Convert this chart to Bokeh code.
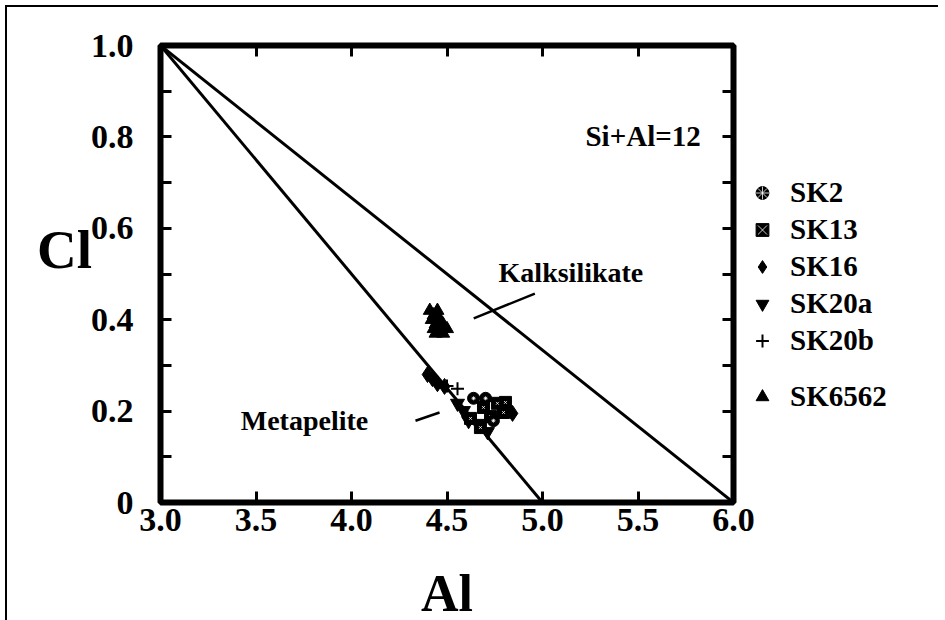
from bokeh.plotting import figure
from bokeh.layouts import row
from bokeh.models import (Range1d, FixedTicker, LinearAxis, Legend, LegendItem,
                          Label, PrintfTickFormatter)
from bokeh.embed import file_html
from bokeh.resources import INLINE

FONT = "Liberation Serif"

# ---- data -------------------------------------------------------------
x_ticks = [3.0, 3.5, 4.0, 4.5, 5.0, 5.5, 6.0]
y_ticks = [0.0, 0.2, 0.4, 0.6, 0.8, 1.0]
y_minor = [0.1, 0.3, 0.5, 0.7, 0.9]

meta_line_al = [3.0, 5.0]
meta_line_cl = [1.0, 0.0]
kalk_line_al = [3.0, 6.0]
kalk_line_cl = [1.0, 0.0]

kalk_leader_al = [4.64, 4.96]
kalk_leader_cl = [0.403, 0.457]
meta_leader_al = [4.335, 4.461]
meta_leader_cl = [0.179, 0.197]

sk2_al = [4.639, 4.743, 4.702]
sk2_cl = [0.228, 0.179, 0.228]
sk13_al = [4.764, 4.691, 4.796, 4.623, 4.675, 4.728, 4.806]
sk13_cl = [0.217, 0.208, 0.197, 0.184, 0.164, 0.188, 0.219]
sk16_al = [4.398, 4.424, 4.450, 4.487, 4.843]
sk16_cl = [0.280, 0.271, 0.260, 0.254, 0.195]
sk20a_al = [4.586, 4.660, 4.712, 4.555, 4.613]
sk20a_cl = [0.201, 0.173, 0.155, 0.217, 0.179]
sk20b_al = [4.500, 4.555]
sk20b_cl = [0.255, 0.249]
sk6562_al = [4.41, 4.43, 4.45, 4.42, 4.44, 4.46, 4.48, 4.43, 4.47, 4.50, 4.45, 4.44, 4.48]
sk6562_cl = [0.42, 0.41, 0.42, 0.40, 0.39, 0.40, 0.39, 0.38, 0.38, 0.38, 0.41, 0.37, 0.37]

legend_group1 = ["SK2", "SK13", "SK16", "SK20a", "SK20b"]
legend_group2 = ["SK6562"]

# ---- marker styles (shared by plot and legend) -----------------------
STYLES = {
    "SK2": [dict(marker="circle", size=12, fill_color="black", line_color="black"),
            dict(marker="asterisk", size=4, line_color="white", line_width=0.8)],
    "SK13": [dict(marker="square", size=12, fill_color="black", line_color="black"),
             dict(marker="x", size=4, line_color="white", line_width=0.8)],
    "SK16": [dict(marker="diamond", size=16, fill_color="black", line_color="black")],
    "SK20a": [dict(marker="inverted_triangle", size=14, fill_color="black", line_color="black")],
    "SK20b": [dict(marker="cross", size=13, line_color="black", line_width=2)],
    "SK6562": [dict(marker="triangle", size=13, fill_color="black", line_color="black")],
}
SERIES = {"SK2": (sk2_al, sk2_cl), "SK13": (sk13_al, sk13_cl),
          "SK16": (sk16_al, sk16_cl), "SK20a": (sk20a_al, sk20a_cl),
          "SK20b": (sk20b_al, sk20b_cl), "SK6562": (sk6562_al, sk6562_cl)}

# ---- figure -----------------------------------------------------------
p = figure(frame_width=573, frame_height=457,
           min_border_left=153, min_border_top=38,
           min_border_right=22, min_border_bottom=118,
           x_range=Range1d(3, 6), y_range=Range1d(0, 1),
           x_axis_type=None, y_axis_type=None,
           output_backend="svg", toolbar_location=None)
p.outline_line_color = "black"
p.outline_line_width = 6
p.background_fill_color = "white"
p.border_fill_color = "white"


def style_axis(ax, show_labels, label_size="34px"):
    ax.axis_line_color = None
    ax.major_tick_in = 11
    ax.major_tick_out = 0
    ax.minor_tick_in = 11
    ax.minor_tick_out = 0
    ax.major_tick_line_width = 3
    ax.minor_tick_line_width = 3
    ax.major_tick_line_color = "black"
    ax.minor_tick_line_color = "black"
    ax.major_label_text_font = FONT
    ax.major_label_text_font_style = "bold"
    ax.major_label_text_color = "black"
    if show_labels:
        ax.major_label_text_font_size = label_size
    else:
        ax.major_label_text_font_size = "1px"
        ax.major_label_text_alpha = 0
        ax.major_label_standoff = 0
    ax.axis_label_text_font = FONT
    ax.axis_label_text_font_style = "bold"
    ax.axis_label_text_font_size = "52px"
    ax.axis_label_text_color = "black"


xb = LinearAxis(ticker=FixedTicker(ticks=x_ticks),
                formatter=PrintfTickFormatter(format="%.1f"),
                axis_label="Al")
style_axis(xb, True)
xb.major_label_standoff = 6
xb.axis_label_standoff = 31
p.add_layout(xb, "below")

yl = LinearAxis(ticker=FixedTicker(ticks=y_ticks, minor_ticks=y_minor),
                formatter=PrintfTickFormatter(format="%.1f"),
                axis_label="Cl\n")
style_axis(yl, True)
yl.major_label_overrides = {0: "0"}
yl.major_label_standoff = 27
yl.axis_label_standoff = -4
yl.axis_label_orientation = "horizontal"
yl.axis_label_text_font_size = "55px"
yl.axis_label_text_line_height = 0.8
p.add_layout(yl, "left")

xt = LinearAxis(ticker=FixedTicker(ticks=x_ticks))
style_axis(xt, False)
p.add_layout(xt, "above")

yr = LinearAxis(ticker=FixedTicker(ticks=y_ticks, minor_ticks=y_minor))
style_axis(yr, False)
p.add_layout(yr, "right")

# ---- reference lines --------------------------------------------------
p.line(meta_line_al, meta_line_cl, line_color="black", line_width=3)
p.line(kalk_line_al, kalk_line_cl, line_color="black", line_width=3)
p.line(kalk_leader_al, kalk_leader_cl, line_color="black", line_width=2.5)
p.line(meta_leader_al, meta_leader_cl, line_color="black", line_width=2.5)

# ---- data markers -----------------------------------------------------
for name in ["SK6562", "SK20a", "SK13", "SK16", "SK20b", "SK2"]:
    xs, ys = SERIES[name]
    for st in STYLES[name]:
        p.scatter(xs, ys, **st)

# ---- text annotations -------------------------------------------------
def add_label(x, y, text, size, align="left"):
    p.add_layout(Label(x=x, y=y, text=text, text_font=FONT, text_font_style="bold",
                       text_font_size=size, text_color="black",
                       text_align=align, text_baseline="middle"))


add_label(5.225, 0.803, "Si+Al=12", "29px")
add_label(4.77, 0.503, "Kalksilikate", "28px")
add_label(3.42, 0.179, "Metapelite", "28px")

# ---- legend panel (separate frame beside the plot) ---------------------
pl = figure(frame_width=183, frame_height=457,
            min_border_left=0, min_border_right=0,
            min_border_top=38, min_border_bottom=118,
            x_range=Range1d(0, 1), y_range=Range1d(0, 1),
            x_axis_type=None, y_axis_type=None,
            output_backend="svg", toolbar_location=None)
pl.outline_line_color = None
pl.background_fill_color = "white"
pl.border_fill_color = "white"
pl.grid.visible = False


def legend_items(names):
    out = []
    for name in names:
        xs, ys = SERIES[name]   # outside this panel's ranges: only the legend glyph shows
        rs = [pl.scatter(xs, ys, **st) for st in STYLES[name]]
        out.append(LegendItem(label=name, renderers=rs))
    return out


def add_legend(items, loc, spacing):
    lg = Legend(items=items, location=loc, orientation="vertical",
                glyph_width=32, glyph_height=33, label_standoff=12,
                padding=0, margin=0, spacing=spacing,
                border_line_color=None, background_fill_alpha=0,
                label_text_font=FONT, label_text_font_style="bold",
                label_text_font_size="29px", label_text_color="black",
                label_height=33)
    pl.add_layout(lg)


add_legend(legend_items(legend_group1), (-9, 145), 4)
add_legend(legend_items(legend_group2), (-9, 89), 4)

layout = row(p, pl)
layout.styles = {"border-top": "2px solid black", "border-left": "2px solid black",
                 "margin-left": "5px", "margin-top": "5px"}

open("out.html", "w").write(file_html(layout, INLINE))
